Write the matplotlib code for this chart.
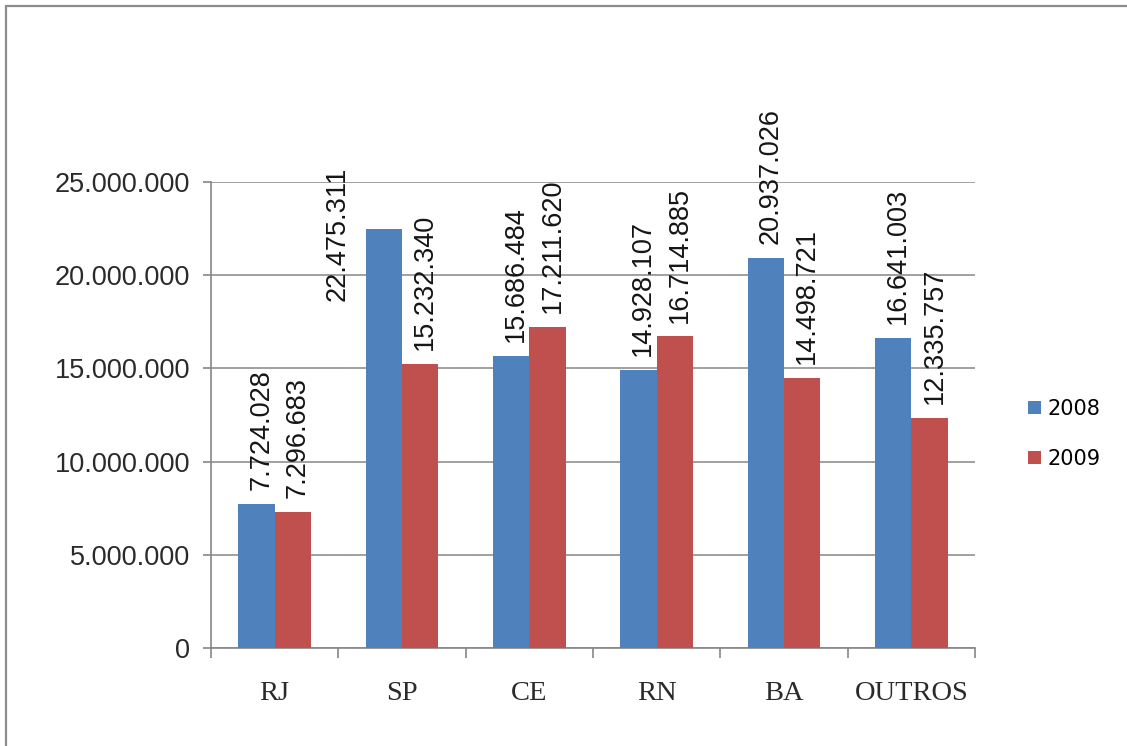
import numpy as np
import matplotlib.pyplot as plt
from matplotlib.patches import Rectangle

# Dados
estados = ['RJ', 'SP', 'CE', 'RN', 'BA', 'OUTROS']
valores_2008 = [7724028, 22475311, 15686484, 14928107, 20937026, 16641003]
valores_2009 = [7296683, 15232340, 17211620, 16714885, 14498721, 12335757]
anos = ['2008', '2009']
yticks = [0, 5000000, 10000000, 15000000, 20000000, 25000000]


def fmt(v):
    return f'{v:,}'.replace(',', '.')


W, H = 1127, 746
fig = plt.figure(figsize=(W / 100, H / 100), dpi=100)
fig.patch.set_facecolor('white')

# moldura do grafico
fig.patches.append(Rectangle((6 / W, -0.1), 1.2, 1.1 - 6 / H, transform=fig.transFigure,
                             fill=False, edgecolor='#8c8c8c', linewidth=1.6))

ax = fig.add_axes([211 / W, (H - 648) / H, 764 / W, 466 / H])

x = np.arange(len(estados))
w = 0.286
cor_2008 = '#4F81BD'
cor_2009 = '#C0504D'
b1 = ax.bar(x - w / 2, valores_2008, w, color=cor_2008, label=anos[0], zorder=3)
b2 = ax.bar(x + w / 2, valores_2009, w, color=cor_2009, label=anos[1], zorder=3)

ax.set_xlim(-0.5, len(estados) - 0.5)
ax.set_ylim(0, 25000000)
ax.set_yticks(yticks)
ax.set_yticklabels([fmt(v) for v in yticks], fontfamily='Liberation Sans', fontsize=19.5, color='#2a2a2a')
ax.yaxis.grid(True, color='#868686', linewidth=1.1, zorder=0)

# ticks do eixo x nas fronteiras, rotulos no centro
ax.set_xticks(np.arange(-0.5, len(estados)), minor=False)
ax.set_xticklabels([])
ax.set_xticks(x, minor=True)
ax.set_xticklabels(estados, minor=True, fontfamily='Liberation Serif', fontsize=20.5, color='#2a2a2a')
ax.tick_params(axis='x', which='major', length=7, color='#868686', width=1.2)
ax.tick_params(axis='x', which='minor', length=0, pad=24)
ax.tick_params(axis='y', length=6, color='#868686', width=1.2, pad=9)

for s in ['top', 'right']:
    ax.spines[s].set_visible(False)
for s in ['left', 'bottom']:
    ax.spines[s].set_color('#868686')
    ax.spines[s].set_linewidth(1.2)

# rotulos de dados
for serie in (b1, b2):
    for i, r in enumerate(serie):
        v = r.get_height()
        cx = r.get_x() + r.get_width() / 2
        dx, dy = 3.5, 10
        if v > 22000000:
            dx, dy = -33.5, -52
        ax.annotate(fmt(int(v)), (cx, v), xytext=(dx, dy), textcoords='offset points',
                    rotation=90, ha='center', va='bottom', fontfamily='Liberation Sans',
                    fontsize=19.5, color='#151515', zorder=4)

leg = ax.legend(loc='center left', bbox_to_anchor=(1.045, 0.46), frameon=False,
                prop={'family': 'DejaVu Sans', 'size': 15}, handlelength=0.6, handleheight=0.6,
                handletextpad=0.35, labelspacing=1.45)

plt.savefig('out.png', dpi=100)
